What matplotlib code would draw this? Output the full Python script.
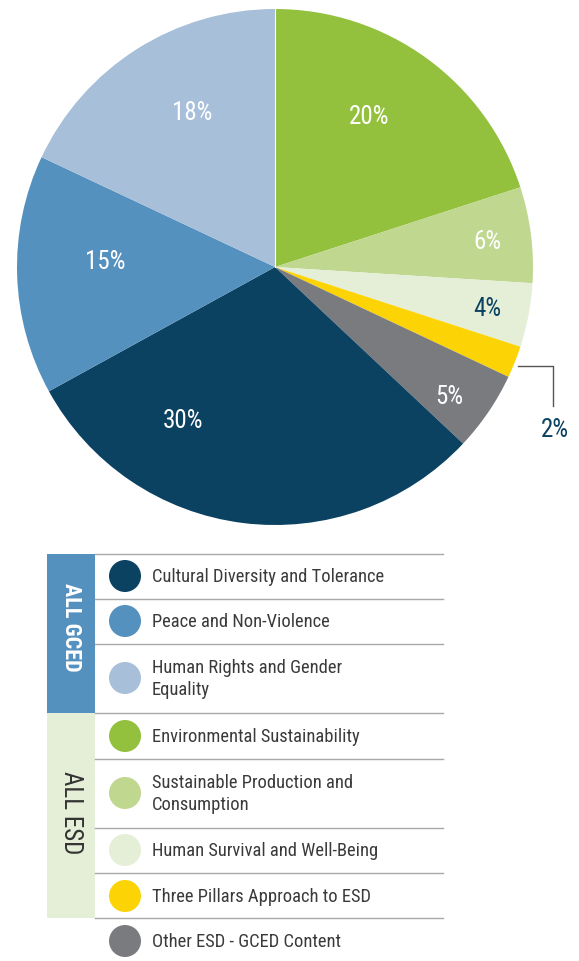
import numpy as np
import matplotlib.pyplot as plt
from matplotlib.patches import Rectangle, Circle
from matplotlib import font_manager

# narrow faces look closest to the original typesetting; take the first one present
names = {f.name for f in font_manager.fontManager.ttflist}
narrow = [n for n in ['Roboto Condensed', 'Open Sans Condensed', 'Liberation Sans Narrow',
                      'Noto Sans Condensed', 'DejaVu Sans'] if n in names]
FONT = narrow[0]
plt.rcParams['font.family'] = [FONT, 'DejaVu Sans']
plt.rcParams['font.stretch'] = 'condensed'

# pie data, clockwise from 12 o'clock
shares = [20, 6, 4, 2, 5, 30, 15, 18]
slice_colors = ['#93c13e', '#bfd78f', '#e5eed6', '#fcd406', '#7a7b7f',
                '#0b4262', '#5591bf', '#a7bfd9']
label_colors = ['white', 'white', '#0b4262', '#0b4262', 'white',
                'white', 'white', 'white']
# where each percentage sits (degrees, fraction of radius)
label_angle = [58, 7, -11, None, -36.5, -121, 178, 118]
label_dist = [0.69, 0.83, 0.84, None, 0.84, 0.69, 0.66, 0.68]

# legend rows, top to bottom
legend_labels = ['Cultural Diversity and Tolerance', 'Peace and Non-Violence',
                 'Human Rights and Gender\nEquality', 'Environmental Sustainability',
                 'Sustainable Production and\nConsumption', 'Human Survival and Well-Being',
                 'Three Pillars Approach to ESD', 'Other ESD - GCED Content']
legend_colors = ['#0b4262', '#5591bf', '#a7bfd9', '#93c13e', '#bfd78f',
                 '#e5eed6', '#fcd406', '#7a7b7f']

W, H = 579, 962
fig = plt.figure(figsize=(W / 100, H / 100), dpi=100)
ax = fig.add_axes([0, 0, 1, 1])

cx, cy, r = 275, H - 268, 258
ax.pie(shares, colors=slice_colors, startangle=90, counterclock=False,
       center=(cx, cy), radius=r, frame=True, wedgeprops=dict(linewidth=0))
ax.set_xlim(0, W)
ax.set_ylim(0, H)
ax.set_aspect('equal')
ax.axis('off')

# thin white seam at 12 o'clock
ax.plot([cx, cx], [cy, cy + r], color='white', lw=0.8)

for v, a, d, c in zip(shares, label_angle, label_dist, label_colors):
    if a is None:
        continue
    t = np.deg2rad(a)
    ax.text(cx + d * r * np.cos(t), cy + d * r * np.sin(t), f'{v}%',
            color=c, fontsize=18, ha='center', va='center')

# leader for the thin yellow slice
ax.plot([518, 553, 553], [H - 367, H - 367, H - 407], color='#555555', lw=1)
ax.text(555, H - 430, f'{shares[3]}%', color='#0b4262', fontsize=18,
        ha='center', va='center')

# legend
row_lines = [555, 600, 645, 714, 760, 829, 874, 919]
row_centers = [577, 622, 679, 737, 794, 851, 897, 942]
ax.add_patch(Rectangle((47, H - 714), 48, 159, color='#5591bf', lw=0))
ax.add_patch(Rectangle((47, H - 919), 48, 205, color='#e5eed6', lw=0))
ax.text(71, H - 627, 'ALL GCED', rotation=-90, color='white', fontsize=16,
        fontweight='bold', ha='center', va='center')
ax.text(71, H - 813, 'ALL ESD', rotation=-90, color='#333333', fontsize=18,
        ha='center', va='center')
for y in row_lines:
    ax.plot([95, 443], [H - y, H - y], color='#a8a8a8', lw=1)
for y, lab, col in zip(row_centers, legend_labels, legend_colors):
    ax.add_patch(Circle((125, H - y), 16, color=col, lw=0))
    ax.text(152, H - y, lab, color='#3a3a3a', fontsize=13.3, ha='left', va='center',
            linespacing=1.35)

fig.savefig('out.png', dpi=100)
